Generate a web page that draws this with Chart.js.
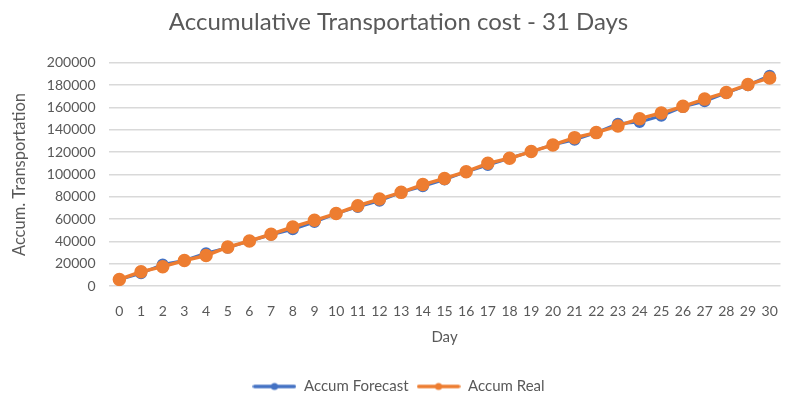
<!DOCTYPE html>
<html>
<head>
<meta charset="utf-8">
<script src="https://cdn.jsdelivr.net/npm/chart.js@4"></script>
<style>
  html, body { margin: 0; padding: 0; background: #fff; }
  #wrap { width: 789px; height: 400px; }
</style>
</head>
<body>
<div id="wrap"><canvas id="chart" width="789" height="400"></canvas></div>
<script>
/* data */
const days = [0,1,2,3,4,5,6,7,8,9,10,11,12,13,14,15,16,17,18,19,20,21,22,23,24,25,26,27,28,29,30];
const accumForecast = [6000, 11500, 19500, 23000, 29500, 34500, 40500, 46000, 51000, 57500, 65000, 71000, 76500, 84000, 89500, 95500, 102500, 108500, 114500, 120500, 126500, 131000, 137500, 145500, 147000, 152500, 160500, 165500, 173000, 180000, 188500];
const accumReal = [6000, 13000, 17500, 23000, 27500, 35000, 40500, 46500, 53000, 59000, 65000, 72000, 78000, 84000, 91000, 96500, 102500, 110000, 114500, 120500, 126500, 133000, 137500, 143500, 150000, 155000, 161000, 167500, 173500, 180500, 186500];

const BLUE = "#4472C4";
const ORANGE = "#ED7D31";
const GREY = "#595959";
const FONT = "Lato, 'Open Sans', sans-serif";

// little line+dot icon for the legend
function legendIcon(color) {
  const c = document.createElement("canvas");
  c.width = 44; c.height = 10;
  const g = c.getContext("2d");
  g.strokeStyle = color;
  g.lineWidth = 3.5;
  g.lineCap = "round";
  g.beginPath(); g.moveTo(2, 5); g.lineTo(42, 5); g.stroke();
  g.fillStyle = color;
  g.beginPath(); g.arc(22, 5, 3.5, 0, Math.PI * 2); g.fill();
  return c;
}
const icons = [legendIcon(BLUE), legendIcon(ORANGE)];

new Chart(document.getElementById("chart"), {
  type: "line",
  data: {
    labels: days,
    datasets: [
      {
        label: "Accum Forecast",
        data: accumForecast,
        borderColor: BLUE,
        backgroundColor: BLUE,
        borderWidth: 3,
        pointStyle: "circle",
        pointRadius: 4.5,
        pointHoverRadius: 4.5,
        order: 2
      },
      {
        label: "Accum Real",
        data: accumReal,
        borderColor: ORANGE,
        backgroundColor: ORANGE,
        borderWidth: 3.5,
        pointStyle: "circle",
        pointRadius: 5,
        pointHoverRadius: 5,
        order: 1
      }
    ]
  },
  options: {
    responsive: false,
    animation: false,
    layout: { padding: { left: 10, right: 2, top: 2, bottom: -4 } },
    elements: { line: { tension: 0 } },
    plugins: {
      title: {
        display: true,
        text: "Accumulative Transportation cost - 31 Days",
        color: GREY,
        font: { family: FONT, size: 24, weight: "normal" },
        padding: { top: 6, bottom: 26 }
      },
      legend: {
        position: "bottom",
        labels: {
          usePointStyle: true,
          pointStyleWidth: 44,
          color: GREY,
          font: { family: FONT, size: 15 },
          padding: 8,
          sort: (a, b) => a.datasetIndex - b.datasetIndex,
          generateLabels: chart => {
            const items = Chart.defaults.plugins.legend.labels.generateLabels(chart);
            items.forEach(it => { it.pointStyle = icons[it.datasetIndex]; });
            return items;
          }
        }
      },
      tooltip: { enabled: false }
    },
    scales: {
      x: {
        offset: true,
        grid: { display: false },
        border: { display: false },
        ticks: { color: GREY, font: { family: FONT, size: 14 }, maxRotation: 0, autoSkip: false, padding: 9 },
        title: { display: true, text: "Day", color: GREY, font: { family: FONT, size: 15 }, padding: { top: -1, bottom: 25 } }
      },
      y: {
        min: 0,
        max: 200000,
        grid: { color: "#d9d9d9", lineWidth: 1.5, drawTicks: false },
        border: { display: false },
        ticks: { stepSize: 20000, color: GREY, font: { family: FONT, size: 14 }, padding: 13, callback: v => String(v) },
        title: { display: true, text: "Accum. Transportation", color: GREY, font: { family: FONT, size: 16.5 }, padding: { top: 0, bottom: 4 } }
      }
    }
  }
});
</script>
</body>
</html>
